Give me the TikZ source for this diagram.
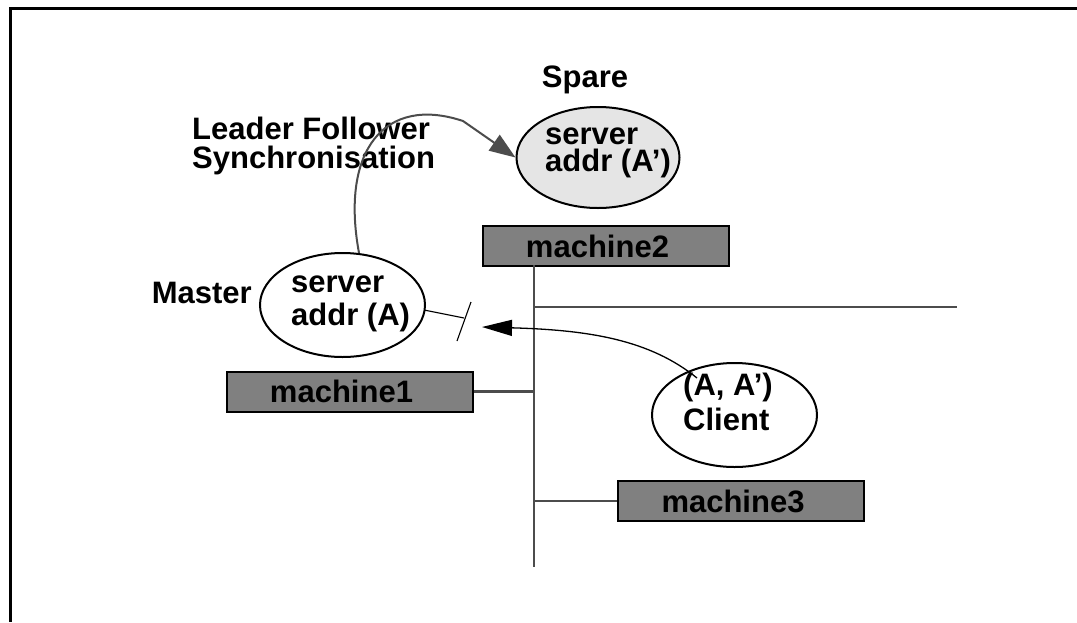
\documentclass[tikz,border=0pt]{standalone}
\usepackage{fontspec}
\setmainfont{Liberation Sans}
\usetikzlibrary{arrows.meta,shapes.geometric}
\definecolor{boxgray}{gray}{0.5}
\definecolor{sparefill}{gray}{0.9}
\definecolor{busgray}{gray}{0.3}
\tikzset{
  lbl/.style={font=\bfseries\fontsize{31}{30}\selectfont, inner sep=0pt, align=left},
  srv/.style={ellipse, draw=black, line width=2pt, inner sep=0pt},
  mbox/.style={rectangle, draw=black, line width=2pt, fill=boxgray,
               minimum width=246, minimum height=40, inner sep=0pt},
  mtext/.style={lbl, xshift=-8},
  bus/.style={draw=busgray, line width=2.6pt},
  link/.style={draw=black, line width=1.1pt},
}
\begin{document}
\begin{tikzpicture}[x=1pt, y=-1pt]
\useasboundingbox (0,0) rectangle (1077,622);
% outer frame (top and left edges)
\draw[line width=2.6pt] (1077,8.7) -- (9.2,8.7);
\draw[line width=2.6pt] (10.5,7.4) -- (10.5,622);

% servers
\node[srv, fill=sparefill, minimum width=163, minimum height=101] (spare) at (598,157.5) {};
\node[srv, fill=white, minimum width=165, minimum height=104] (master) at (342.5,305) {};
\node[srv, fill=white, minimum width=165, minimum height=104] (client) at (734.5,415) {};

\node[lbl, anchor=north west, font=\bfseries\fontsize{31}{27}\selectfont] (sparetxt) at (545,128) {server\\addr (A')};
\node[lbl, anchor=north west, font=\bfseries\fontsize{31}{33}\selectfont] (mastertxt) at (291,276) {server\\addr (A)};
\node[lbl, anchor=north west, font=\bfseries\fontsize{31}{35}\selectfont] (clienttxt) at (683,373) {(A, A')\\Client};

% labels
\node[lbl, anchor=base] (sparelbl) at (585,87) {Spare};
\node[lbl, anchor=base east] (masterlbl) at (252,303) {Master};
\node[lbl, anchor=north west, font=\bfseries\fontsize{31}{29.5}\selectfont] (synclbl) at (192,116.5) {Leader Follower\\Synchronisation};

% machines
\node[mbox] (m2) at (605.5,246) {};
\node[mbox] (m1) at (349.5,391.5) {};
\node[mbox] (m3) at (741,501) {};
\node[mtext] at (m2) {machine2};
\node[mtext] at (m1) {machine1};
\node[mtext] at (m3) {machine3};

% network
\coordinate (busTop) at (534,265);
\coordinate (busBot) at (534,567);
\coordinate (netEnd) at (957,307);
\draw[bus] (busTop) -- (busBot);
\draw[bus] (busTop |- netEnd) -- (netEnd);
\draw[bus] (m1.east) -- (busTop |- m1.east);
\draw[bus] (busTop |- m3.west) -- (m3.west);

% leader/follower synchronisation
\coordinate (bend) at (463,121);
\draw[busgray, line width=2pt, -{Triangle[length=26,width=19]}]
  (359,253) .. controls (340,150) and (385,95) .. (bend) -- (spare.west);

% broken link from master and client request
\coordinate (brk) at (464,318);
\coordinate (stop) at (482,327);
\draw[link] (master.east) ++(-2,5) -- (brk);
\draw[link] (471,302) -- (457,341);
\draw[black, line width=1.3pt, -{Triangle[length=30,width=16]}]
  (697,378) .. controls (650,340) and (590,330) .. (stop);
\end{tikzpicture}
\end{document}
